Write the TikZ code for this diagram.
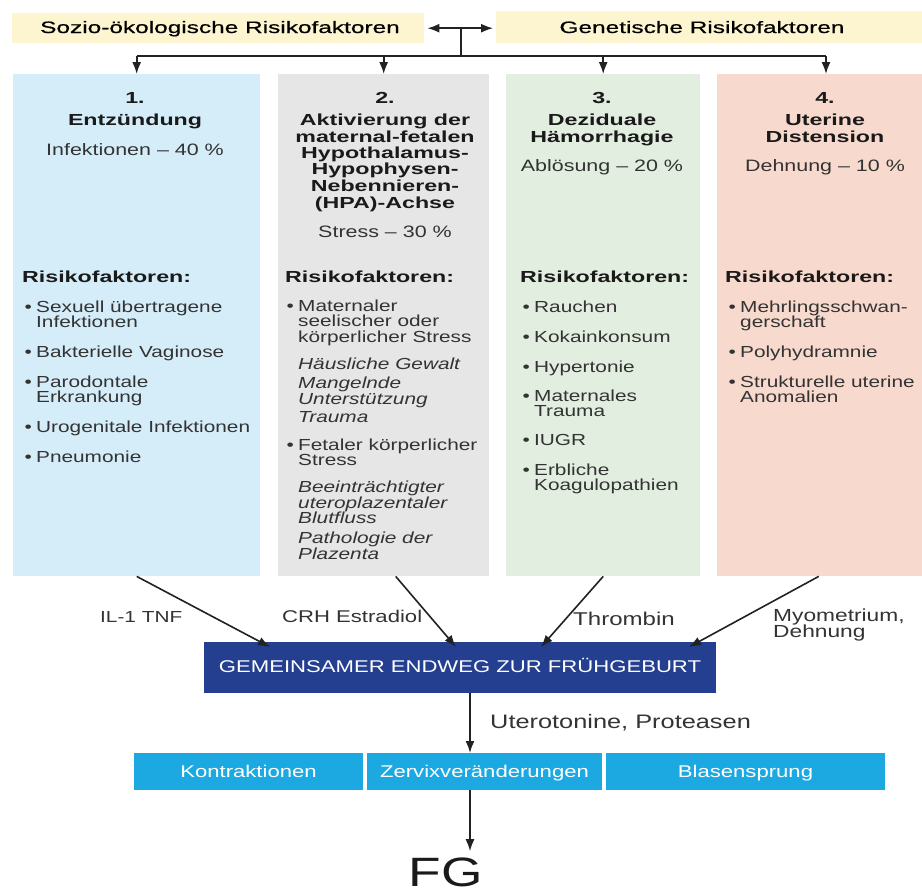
\documentclass[tikz,border=0pt]{standalone}
\usepackage{fontspec}
\usetikzlibrary{arrows.meta,calc}
\newfontfamily\hv[FakeStretch=1.3]{Liberation Sans}
\newfontfamily\hvb[FakeStretch=1.45]{Liberation Sans}
\newfontfamily\hvw[FakeStretch=1.48,FakeBold=0.6]{Liberation Sans}
\definecolor{yel}{HTML}{FCF5D0}
\definecolor{cblue}{HTML}{D4EDF9}
\definecolor{cgray}{HTML}{E6E6E6}
\definecolor{cgreen}{HTML}{E2EEDF}
\definecolor{csalmon}{HTML}{F8D9CD}
\definecolor{navy}{HTML}{243F8F}
\definecolor{cyanbox}{HTML}{1CA9E2}
\definecolor{txt}{HTML}{333333}
\definecolor{ttxt}{HTML}{1A1A1A}
\definecolor{linec}{HTML}{222222}
\tikzset{
  box/.style={inner sep=0pt, draw=none, anchor=north west},
  body/.style={inner sep=0pt, anchor=base west, text=txt, font=\hv\fontsize{16}{16}\selectfont},
  ital/.style={inner sep=0pt, anchor=base west, text=txt, font=\hv\itshape\fontsize{16}{16}\selectfont},
  ttl/.style={inner sep=0pt, anchor=base, text=ttxt, font=\hvb\bfseries\fontsize{16}{16}\selectfont},
  risk/.style={inner sep=0pt, anchor=base west, text=ttxt, font=\hvb\bfseries\fontsize{16}{16}\selectfont},
  pct/.style={inner sep=0pt, anchor=base, text=txt, font=\hv\fontsize{16.5}{16}\selectfont},
  head/.style={inner sep=0pt, anchor=base, text=black, font=\hvw\fontsize{16.5}{16}\selectfont},
  lab/.style={inner sep=0pt, anchor=base west, text=txt, font=\hv\fontsize{16}{16}\selectfont},
  arr/.style={draw=linec, line width=1.6pt, -{Latex[length=12pt,width=9pt]}},
  conn/.style={draw=linec, line width=1.6pt}
}
\newcommand{\bul}{\makebox[11.5pt][l]{•}}
\begin{document}
\begin{tikzpicture}[x=1pt,y=-1pt]
\useasboundingbox (0,0) rectangle (922,895);
\fill[white] (0,0) rectangle (922,895);

% header boxes
\node[box, fill=yel, minimum width=412pt, minimum height=30pt] (yl) at (12,13) {};
\node[box, fill=yel, minimum width=426pt, minimum height=32pt] (yr) at (496,11) {};
\node[head] (hl) at (220,33) {Sozio-ökologische Risikofaktoren};
\node[head] (hr) at (702,33) {Genetische Risikofaktoren};

% columns
\node[box, fill=cblue, minimum width=247pt, minimum height=502pt] (col1) at (13,74) {};
\node[box, fill=cgray, minimum width=211pt, minimum height=502pt] (col2) at (278,74) {};
\node[box, fill=cgreen, minimum width=194pt, minimum height=502pt] (col3) at (506,74) {};
\node[box, fill=csalmon, minimum width=205pt, minimum height=502pt] (col4) at (717,74) {};

% top connectors
\coordinate (hz) at (461,56);
\draw[conn, {Latex[length=12pt,width=9pt]}-{Latex[length=12pt,width=9pt]}] ($(yl.east)+(3,0)$) -- ($(yr.west |- yl.east)+(-3,0)$);
\draw[conn] (hz |- yl.east) -- (hz);
\coordinate (c4t) at ($(col4.north west)+(109,0)$);
\draw[conn] (col1.north |- hz) -- (c4t |- hz);
\draw[arr] (col1.north |- hz) -- (col1.north);
\draw[arr] (col2.north |- hz) -- (col2.north);
\draw[arr] (col3.north |- hz) -- (col3.north);
\draw[arr] (c4t |- hz) -- (c4t);

% column 1
\node[ttl] (n1) at (135,103) {1.};
\node[ttl] (t1) at (135,125) {Entzündung};
\node[pct] (p1) at (135,155) {Infektionen – 40 \%};
\node[risk] (r1) at (22,282) {Risikofaktoren:};
\node[body] (a1) at (24.5,312) {\bul Sexuell übertragene};
\node[body] (a1b) at (36,327) {Infektionen};
\node[body] (a2) at (24.5,357) {\bul Bakterielle Vaginose};
\node[body] (a3) at (24.5,387) {\bul Parodontale};
\node[body] (a3b) at (36,402) {Erkrankung};
\node[body] (a4) at (24.5,432) {\bul Urogenitale Infektionen};
\node[body] (a5) at (24.5,462) {\bul Pneumonie};

% column 2
\node[ttl] (n2) at (385,103) {2.};
\node[ttl] (t2a) at (385,125) {Aktivierung der};
\node[ttl] (t2b) at (385,142) {maternal-fetalen};
\node[ttl] (t2c) at (385,158) {Hypothalamus-};
\node[ttl] (t2d) at (385,174) {Hypophysen-};
\node[ttl] (t2e) at (385,191) {Nebennieren-};
\node[ttl] (t2f) at (385,208) {(HPA)-Achse};
\node[pct] (p2) at (385,237) {Stress – 30 \%};
\node[risk] (r2) at (285,282) {Risikofaktoren:};
\node[body] (b1) at (286.5,311) {\bul Maternaler};
\node[body] (b1b) at (298,326.5) {seelischer oder};
\node[body] (b1c) at (298,342) {körperlicher Stress};
\node[ital] (b2) at (298,369) {Häusliche Gewalt};
\node[ital] (b3) at (298,388) {Mangelnde};
\node[ital] (b3b) at (298,404) {Unterstützung};
\node[ital] (b4) at (298,422) {Trauma};
\node[body] (b5) at (286.5,450) {\bul Fetaler körperlicher};
\node[body] (b5b) at (298,465.5) {Stress};
\node[ital] (b6) at (298,492) {Beeinträchtigter};
\node[ital] (b6b) at (298,508) {uteroplazentaler};
\node[ital] (b6c) at (298,523) {Blutfluss};
\node[ital] (b7) at (298,543) {Pathologie der};
\node[ital] (b7b) at (298,559) {Plazenta};

% column 3
\node[ttl] (n3) at (602,103) {3.};
\node[ttl] (t3a) at (602,125) {Deziduale};
\node[ttl] (t3b) at (602,142) {Hämorrhagie};
\node[pct] (p3) at (602,171) {Ablösung – 20 \%};
\node[risk] (r3) at (520,282) {Risikofaktoren:};
\node[body] (c1) at (522.5,312) {\bul Rauchen};
\node[body] (c2) at (522.5,342) {\bul Kokainkonsum};
\node[body] (c3) at (522.5,372) {\bul Hypertonie};
\node[body] (c4) at (522.5,401) {\bul Maternales};
\node[body] (c4b) at (534,416) {Trauma};
\node[body] (c5) at (522.5,445) {\bul IUGR};
\node[body] (c6) at (522.5,475) {\bul Erbliche};
\node[body] (c6b) at (534,490) {Koagulopathien};

% column 4
\node[ttl] (n4) at (825,103) {4.};
\node[ttl] (t4a) at (825,125) {Uterine};
\node[ttl] (t4b) at (825,142) {Distension};
\node[pct] (p4) at (825,171) {Dehnung – 10 \%};
\node[risk] (r4) at (725,282) {Risikofaktoren:};
\node[body] (d1) at (728.5,312) {\bul Mehrlingsschwan-};
\node[body] (d1b) at (740,327) {gerschaft};
\node[body] (d2) at (728.5,357) {\bul Polyhydramnie};
\node[body] (d3) at (728.5,387) {\bul Strukturelle uterine};
\node[body] (d3b) at (740,402) {Anomalien};

% common pathway
\node[box, fill=navy, minimum width=512pt, minimum height=51pt] (gem) at (204,642) {};
\node[inner sep=0pt, anchor=base, text=white, font=\hv\fontsize{17}{17}\selectfont] (gemt) at (460,672) {GEMEINSAMER ENDWEG ZUR FRÜHGEBURT};

\draw[arr] (col1.south) -- ($(gem.north west)+(66,5)$);
\draw[arr] ($(col2.south)+(12,0)$) -- ($(gem.north west)+(252,5)$);
\draw[arr] (col3.south) -- ($(gem.north west)+(337,5)$);
\draw[arr] ($(col4.south)+(-1,0)$) -- ($(gem.north west)+(485,5)$);

\node[lab] (l1) at (100,622) {IL-1 TNF};
\node[lab, font=\hv\fontsize{17}{17}\selectfont] (l2) at (282,622) {CRH Estradiol};
\node[lab, font=\hv\fontsize{18.5}{18}\selectfont] (l3) at (573,625) {Thrombin};
\node[lab, font=\hv\fontsize{17.5}{17}\selectfont] (l4) at (773,621) {Myometrium,};
\node[lab, font=\hv\fontsize{17.5}{17}\selectfont] (l4b) at (773,637) {Dehnung};

% outcomes
\node[box, fill=cyanbox, minimum width=229pt, minimum height=37pt] (k1) at (134,753) {};
\node[box, fill=cyanbox, minimum width=235pt, minimum height=37pt] (k2) at (367,753) {};
\node[box, fill=cyanbox, minimum width=279pt, minimum height=37pt] (k3) at (606,753) {};
\node[inner sep=0pt, anchor=base, text=white, font=\hv\fontsize{17}{17}\selectfont] (k1t) at (248.5,777) {Kontraktionen};
\node[inner sep=0pt, anchor=base, text=white, font=\hv\fontsize{17}{17}\selectfont] (k2t) at (484.5,777) {Zervixveränderungen};
\node[inner sep=0pt, anchor=base, text=white, font=\hv\fontsize{17}{17}\selectfont] (k3t) at (745.5,777) {Blasensprung};

\coordinate (ax) at (470,0);
\draw[arr] (ax |- gem.south) -- (ax |- k2.north);
\node[lab, font=\hv\fontsize{19.5}{19}\selectfont] (ut) at (490,728) {Uterotonine, Proteasen};

\node[inner sep=0pt, anchor=base, text=ttxt, font=\hv\fontsize{41}{41}\selectfont] (fg) at (446,886) {FG};
\draw[arr] (ax |- k2.south) -- ($(ax |- fg.north)+(0,-6)$);
\end{tikzpicture}
\end{document}
